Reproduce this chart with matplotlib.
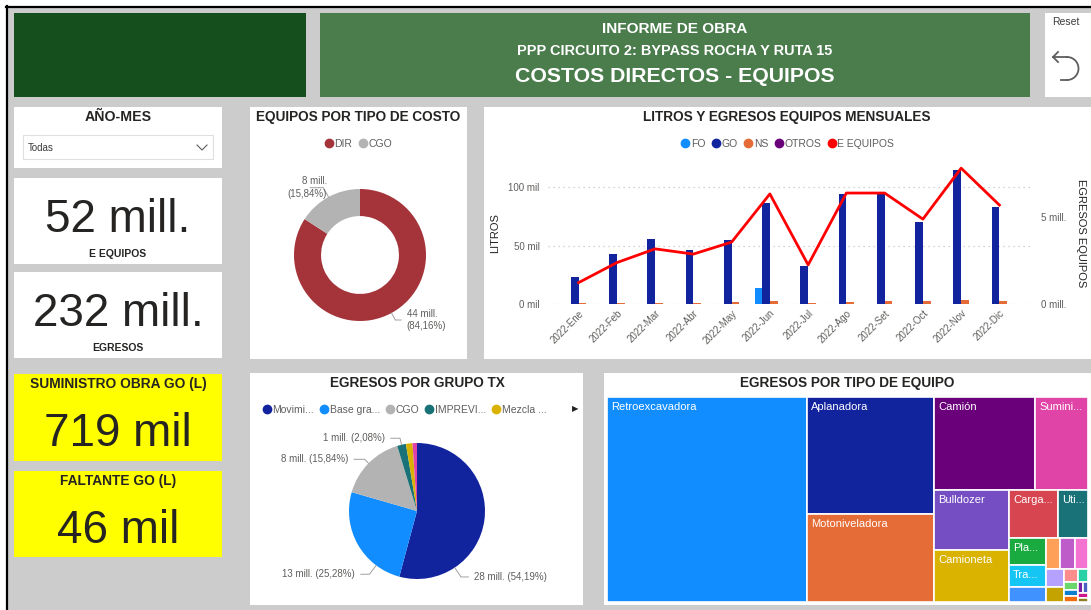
import numpy as np
import matplotlib
matplotlib.use('Agg')
import matplotlib.pyplot as plt
from matplotlib.patches import Rectangle
from matplotlib.lines import Line2D
from matplotlib import font_manager

W, H = 1091, 610

# ---------------- data ----------------
months = ['2022-Ene', '2022-Feb', '2022-Mar', '2022-Abr', '2022-May', '2022-Jun',
          '2022-Jul', '2022-Ago', '2022-Set', '2022-Oct', '2022-Nov', '2022-Dic']
fo_litros = [0, 0, 0, 0, 0, 14, 0, 0, 0, 0, 0, 0]
go_litros = [23.4, 42.9, 55.4, 46.3, 54.9, 86.9, 32.6, 94.6, 94.6, 70.6, 114.9, 83.4]
ns_litros = [1.0, 0.6, 1.2, 1.0, 2.0, 2.5, 1.0, 1.5, 2.5, 2.5, 3.5, 3.0]
otros_litros = [0.1, 0.1, 0.1, 0.1, 0.1, 0.1, 0.1, 0.1, 0.1, 0.1, 0.1, 0.1]
e_equipos_mensual = [1.23, 2.38, 3.17, 2.87, 3.56, 6.33, 2.25, 6.38, 6.38, 4.88, 7.81, 5.69]

costo_tipos = ['DIR', 'CGO']
costo_vals = [43.763, 8.237]

grupo_tx = ['Movimi...', 'Base gra...', 'CGO', 'IMPREVI...', 'Mezcla ...', 'Otros']
grupo_vals = [28.179, 13.146, 8.237, 1.082, 0.806, 0.551]

equipo_tipos = ['Retroexcavadora', 'Aplanadora', 'Motoniveladora', 'Camión', 'Sumini...',
                'Bulldozer', 'Camioneta', 'Carga...', 'Uti...', 'Pla...', 'Tra...',
                '', '', '', '', '', '', '', '', '', '', '', '', '', '', '']
equipo_vals = [21.19, 7.65, 5.80, 4.84, 2.52, 2.35, 2.00, 1.21, 0.75, 0.52, 0.42,
               0.28, 0.23, 0.23, 0.21, 0.18, 0.14, 0.095, 0.066, 0.057,
               0.045, 0.04, 0.03, 0.03, 0.025, 0.02]

kpi_values = ['52 mill.', '232 mill.', '719 mil', '46 mil']
kpi_labels = ['E EQUIPOS', 'EGRESOS', 'SUMINISTRO OBRA GO (L)', 'FALTANTE GO (L)']

# Power BI default palette
PBI = ['#118DFF', '#12239E', '#E66C37', '#6B007B', '#E044A7', '#744EC2', '#D9B300',
       '#D64550', '#197278', '#1AAB40', '#15C6F4', '#4092FF', '#FFA058', '#BE5DC9',
       '#F472D0', '#B5A1FF', '#C4A200', '#FD8D8D', '#2BD1A6', '#6BD66B', '#0B7FCF',
       '#F26B0F', '#7B1FA2', '#4A5FC1', '#D0168C', '#8E7B1F']
GREY_TXT = '#605E5C'
DARK_TXT = '#252423'

# ---------------- fonts ----------------
names = {f.name for f in font_manager.fontManager.ttflist}
if 'Liberation Sans Narrow' in names:
    NARROW, NF = 'Liberation Sans Narrow', 1.0
elif 'DejaVu Sans Condensed' in names:
    NARROW, NF = 'DejaVu Sans Condensed', 0.85
else:
    NARROW, NF = 'Liberation Sans', 0.85
REG = 'Liberation Sans' if 'Liberation Sans' in names else 'DejaVu Sans'
plt.rcParams['font.family'] = [REG, 'DejaVu Sans']


def fbox(x0, y0, x1, y1):
    return [x0 / W, 1 - y1 / H, (x1 - x0) / W, (y1 - y0) / H]


fig = plt.figure(figsize=(W / 100, H / 100), dpi=100, facecolor='white')
bg = fig.add_axes([0, 0, 1, 1])
bg.set_xlim(0, W)
bg.set_ylim(H, 0)
bg.axis('off')


def panel(x0, y0, x1, y1, color='white', ec='none'):
    bg.add_patch(Rectangle((x0, y0), x1 - x0, y1 - y0, facecolor=color, edgecolor=ec, lw=0.8))


def title(x, y, s, size=11.5, color=DARK_TXT):
    bg.text(x, y, s, ha='center', va='center', fontsize=size * NF, fontweight='bold',
            family=[NARROW, 'DejaVu Sans'], color=color)


# canvas + border
panel(7, 7, W, H, '#CCCCCC')
bg.plot([7, 7], [6, H], color='black', lw=1.6)
bg.plot([6, W], [7, 7], color='black', lw=1.6)

# header
panel(14, 13, 306, 97, '#154F1D')
panel(320, 13, 1030, 97, '#4A7C4C')
title(675, 29, 'INFORME DE OBRA', 13, 'white')
title(675, 51, 'PPP CIRCUITO 2: BYPASS ROCHA Y RUTA 15', 12.3, 'white')
title(675, 76, 'COSTOS DIRECTOS - EQUIPOS', 18, 'white')

# reset button
panel(1045, 13, W, 97)
bg.text(1066, 22, 'Reset', ha='center', va='center', fontsize=7.5, color='#3B3A39')
t = np.radians(np.linspace(-90, 90, 40))
bg.plot(1067 + 11.5 * np.cos(t), 68.5 + 11.5 * np.sin(t), color=GREY_TXT, lw=1.3)
bg.plot([1053, 1067], [57, 57], color=GREY_TXT, lw=1.3)
bg.plot([1061, 1067], [80, 80], color=GREY_TXT, lw=1.3)
bg.plot([1058, 1053, 1058], [52, 57, 62], color=GREY_TXT, lw=1.3)

# slicer
panel(14, 107, 222, 168)
title(118, 117, 'AÑO-MES', 12)
panel(23, 135, 213, 159, 'white', '#E1DFDD')
bg.text(28, 148, 'Todas', ha='left', va='center', fontsize=7, color='#3B3A39')
bg.plot([197, 202, 207], [145, 150, 145], color=GREY_TXT, lw=0.8)

# KPI cards
cards = [(178, 264, 'white'), (272, 358, 'white'), (374, 461, '#FFFF00'), (471, 557, '#FFFF00')]
for (y0, y1, col), val, lab in zip(cards, kpi_values, kpi_labels):
    panel(14, y0, 222, y1, col)
    if col == 'white':
        bg.text(118, y0 + 42, val, ha='center', va='center', fontsize=33, color=DARK_TXT)
        title(118, y1 - 10, lab, 8.8)
    else:
        title(118, y0 + 10, lab, 11.6)
        bg.text(118, y0 + 60, val, ha='center', va='center', fontsize=33, color=DARK_TXT)


def pct(v, tot):
    return f'{100 * v / tot:.2f}'.replace('.', ',') + '%'


# ---------------- donut: equipos por tipo de costo ----------------
panel(250, 107, 467, 359)
title(358, 117, 'EQUIPOS POR TIPO DE COSTO')
dax = fig.add_axes(fbox(294, 189, 426, 321))
wedges, _ = dax.pie(costo_vals, colors=['#A4343A', '#B3B3B3'], startangle=90,
                    counterclock=False, wedgeprops=dict(width=0.41, linewidth=0))
dax.set_xlim(-1, 1)
dax.set_ylim(-1, 1)
tot = sum(costo_vals)
donut_txt = [(0.71, -0.985, 'left'), (-0.5, 1.02, 'right')]
for w, v, (tx, ty, ha) in zip(wedges, costo_vals, donut_txt):
    a = np.radians((w.theta1 + w.theta2) / 2)
    s = f'{v:.0f} mill.\n({pct(v, tot)})'
    dax.annotate(s, xy=(np.cos(a), np.sin(a)), xytext=(tx, ty), ha=ha, va='center',
                 multialignment=ha, fontsize=7, color=GREY_TXT, linespacing=1.35,
                 annotation_clip=False,
                 arrowprops=dict(arrowstyle='-', color='#A19F9D', lw=0.7, shrinkA=2, shrinkB=0,
                                 connectionstyle=f'angle,angleA=0,angleB={np.degrees(a):.1f}'))
h = [Line2D([], [], marker='o', ls='', ms=6, color=c) for c in ['#A4343A', '#B3B3B3']]
fig.legend(h, costo_tipos, loc='center', bbox_to_anchor=(358 / W, 1 - 144 / H), ncol=2,
           frameon=False, fontsize=7.5, handletextpad=0.05, columnspacing=0.5,
           labelcolor=GREY_TXT, handlelength=1)

# ---------------- bars + line ----------------
panel(484, 107, W, 359)
title(787, 117, 'LITROS Y EGRESOS EQUIPOS MENSUALES')
ax = fig.add_axes(fbox(548, 164, 1030, 304))
x = np.arange(len(months))
bw = 0.2
series = [fo_litros, go_litros, ns_litros, otros_litros]
scol = ['#118DFF', '#12239E', '#E66C37', '#6B007B']
for i, (vals, c) in enumerate(zip(series, scol)):
    ax.bar(x + (i - 1.5) * bw, vals, bw, color=c, zorder=2)
ax.set_xlim(-0.8, 11.8)
ax.set_ylim(0, 120)
ax.set_yticks([0, 50, 100])
ax.set_yticklabels([f'{v} mil' for v in [0, 50, 100]])
ax.set_xticks(x)
ax.set_xticklabels(months, rotation=45, ha='right', rotation_mode='anchor')
ax.grid(axis='y', linestyle=(0, (1, 3)), color='#C8C6C4', lw=0.9, zorder=0)
ax.tick_params(length=0, labelsize=7, colors=GREY_TXT, pad=6)
ax.tick_params(axis='x', pad=3)
for sp in ax.spines.values():
    sp.set_visible(False)
ax.set_facecolor('none')
ax2 = ax.twinx()
ax2.plot(x, e_equipos_mensual, color='#FF0000', lw=2, zorder=3)
ax2.set_ylim(0, 8.05)
ax2.set_yticks([0, 5])
ax2.set_yticklabels(['0 mill.', '5 mill.'])
ax2.tick_params(length=0, labelsize=7, colors=GREY_TXT, pad=8)
for sp in ax2.spines.values():
    sp.set_visible(False)
bg.text(495, 233, 'LITROS', rotation=90, ha='center', va='center', fontsize=8, color=DARK_TXT,
        family=[NARROW, 'DejaVu Sans'])
bg.text(1081, 233, 'EGRESOS EQUIPOS', rotation=270, ha='center', va='center', fontsize=8,
        color=DARK_TXT, family=[NARROW, 'DejaVu Sans'])
h = [Line2D([], [], marker='o', ls='', ms=6, color=c) for c in scol + ['#FF0000']]
fig.legend(h, ['FO', 'GO', 'NS', 'OTROS', 'E EQUIPOS'], loc='center',
           bbox_to_anchor=(787 / W, 1 - 144 / H), ncol=5, frameon=False, fontsize=7.5,
           handletextpad=0.05, columnspacing=0.5, labelcolor=GREY_TXT, handlelength=1)

# ---------------- pie: egresos por grupo tx ----------------
panel(250, 373, 583, 605)
title(417, 383, 'EGRESOS POR GRUPO TX')
gcol = ['#12239E', '#118DFF', '#B3B3B3', '#197278', '#D9B300', '#E044A7']
pax = fig.add_axes(fbox(349, 443, 485, 579))
wedges, _ = pax.pie(grupo_vals, colors=gcol, startangle=90, counterclock=False,
                    wedgeprops=dict(linewidth=0))
pax.set_xlim(-1, 1)
pax.set_ylim(-1, 1)
tot = sum(grupo_vals)
pie_txt = [(0.84, -0.97, 'left', 0.75), (-0.91, -0.93, 'right', 0.24),
           (-1.01, 0.76, 'right', 0.5), (-0.47, 1.07, 'right', 0.5)]
for w, v, (tx, ty, ha, frac) in zip(wedges, grupo_vals, pie_txt):
    a = np.radians(w.theta2 - frac * (w.theta2 - w.theta1))
    s = f'{v:.0f} mill. ({pct(v, tot)})'
    pax.annotate(s, xy=(np.cos(a), np.sin(a)), xytext=(tx, ty), ha=ha, va='center',
                 fontsize=7, color=GREY_TXT, annotation_clip=False,
                 arrowprops=dict(arrowstyle='-', color='#A19F9D', lw=0.7, shrinkA=2, shrinkB=0,
                                 connectionstyle=f'angle,angleA=0,angleB={np.degrees(a):.1f}'))
h = [Line2D([], [], marker='o', ls='', ms=6, color=c) for c in gcol[:5]]
fig.legend(h, grupo_tx[:5], loc='center left', bbox_to_anchor=(252 / W, 1 - 410 / H), ncol=5,
           frameon=False, fontsize=7.5, handletextpad=0.05, columnspacing=0.45,
           labelcolor=GREY_TXT, handlelength=1)
bg.text(575, 409, '▶', ha='center', va='center', fontsize=6, color='#252423',
        family='DejaVu Sans')

# ---------------- treemap: egresos por tipo de equipo ----------------
panel(604, 373, W, 605)
title(847, 383, 'EGRESOS POR TIPO DE EQUIPO')
TW, TH = 481.0, 205.0
tax = fig.add_axes(fbox(607, 397, 607 + TW, 397 + TH))
tax.set_xlim(0, TW)
tax.set_ylim(TH, 0)
tax.axis('off')


def squarify(vals, x0, y0, x1, y1, ratio=(1 + 5 ** 0.5) / 2):
    # squarified layout with golden-ratio target (same idea as d3.treemapSquarify)
    rects = []
    value = float(sum(vals))
    i0 = 0
    n = len(vals)
    while i0 < n:
        dx, dy = x1 - x0, y1 - y0
        i1 = i0 + 1
        s = vals[i0]
        vmin = vmax = s
        alpha = max(dy / dx, dx / dy) / (value * ratio)
        beta = s * s * alpha
        best = max(vmax / beta, beta / vmin)
        while i1 < n:
            v = vals[i1]
            s2 = s + v
            beta = s2 * s2 * alpha
            r = max(max(vmax, v) / beta, beta / min(vmin, v))
            if r > best:
                break
            s, best = s2, r
            vmin, vmax = min(vmin, v), max(vmax, v)
            i1 += 1
        row = vals[i0:i1]
        if dx < dy:  # row across the top
            rh = dy * s / value
            xx = x0
            for v in row:
                rw = dx * v / s
                rects.append((xx, y0, rw, rh))
                xx += rw
            y0 += rh
        else:  # column on the left
            cw = dx * s / value
            yy = y0
            for v in row:
                ch = dy * v / s
                rects.append((x0, yy, cw, ch))
                yy += ch
            x0 += cw
        value -= s
        i0 = i1
    return rects


rects = squarify(equipo_vals, 0, 0, TW, TH)
for (rx, ry, rw, rh), lab, c in zip(rects, equipo_tipos, PBI):
    tax.add_patch(Rectangle((rx, ry), rw, rh, facecolor=c, edgecolor='white', lw=1.2))
    if lab:
        tax.text(rx + 4, ry + 5, lab, ha='left', va='top', fontsize=8, color='white')

fig.savefig('out.png', dpi=100, facecolor='white')
